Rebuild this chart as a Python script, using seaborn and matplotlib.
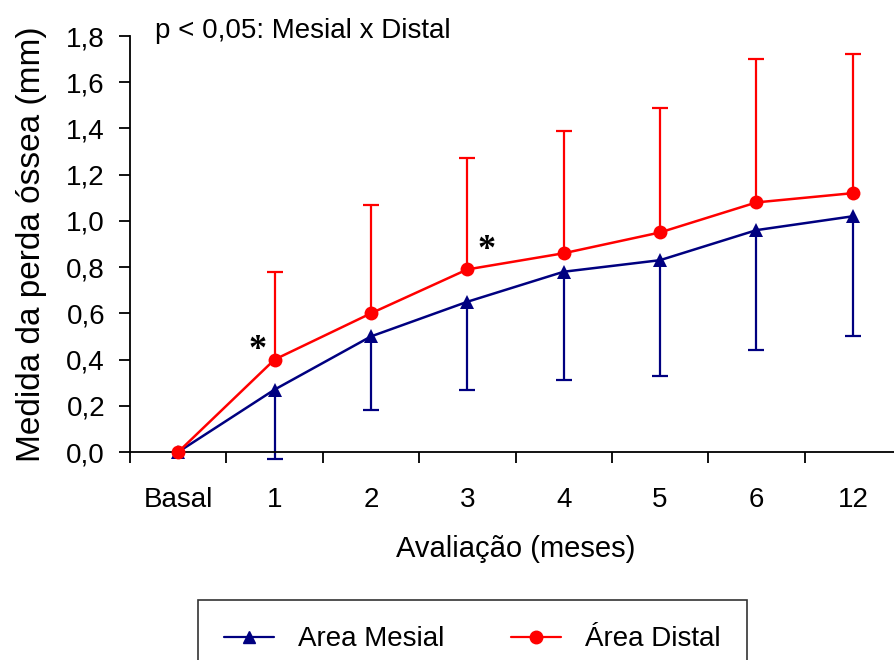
import numpy as np
import pandas as pd
import matplotlib
matplotlib.use("Agg")
import matplotlib.pyplot as plt
import seaborn as sns
from matplotlib.lines import Line2D

# ==============================================================================
# DATA
# ==============================================================================
meses = ["Basal", "1", "2", "3", "4", "5", "6", "12"]
mesial = [0.0, 0.27, 0.50, 0.65, 0.78, 0.83, 0.96, 1.02]
mesial_dp = [0.0, 0.30, 0.32, 0.38, 0.47, 0.50, 0.52, 0.52]
distal = [0.0, 0.40, 0.60, 0.79, 0.86, 0.95, 1.08, 1.12]
distal_dp = [0.0, 0.38, 0.47, 0.48, 0.53, 0.54, 0.62, 0.60]
asteriscos = [(0.82, 0.44), (3.2, 0.87)]

df = pd.DataFrame({
    "Avaliação": meses * 2,
    "Perda": mesial + distal,
    "Grupo": ["Area Mesial"] * len(meses) + ["Área Distal"] * len(meses),
})

AZUL = "#000080"
VERMELHO = "#FF0000"

# ==============================================================================
# PLOT
# ==============================================================================
sns.set_style("white")
plt.rcParams["font.family"] = ["Liberation Sans", "DejaVu Sans"]
plt.rcParams["text.color"] = "black"
plt.rcParams["axes.labelcolor"] = "black"
plt.rcParams["xtick.color"] = "black"
plt.rcParams["ytick.color"] = "black"

fig = plt.figure(figsize=(8.95, 6.6), dpi=100)
ax = fig.add_axes([130 / 895, 208 / 660, 771 / 895, 416 / 660])

x = np.arange(len(meses))
zeros = [0] * (len(meses) - 1)

# one-sided error bars (no bar at Basal): mesial downward, distal upward
eb_m = ax.errorbar(x[1:], mesial[1:], yerr=[mesial_dp[1:], zeros], fmt="none",
                   ecolor=AZUL, elinewidth=1.6, capsize=6, capthick=1.6, clip_on=False, zorder=2)
eb_d = ax.errorbar(x[1:], distal[1:], yerr=[zeros, distal_dp[1:]], fmt="none",
                   ecolor=VERMELHO, elinewidth=1.6, capsize=6, capthick=1.6, clip_on=False, zorder=2)
eb_m[1][1].set_visible(False)
eb_d[1][0].set_visible(False)
for c in list(eb_m[1]) + list(eb_d[1]):
    c.set_clip_on(False)

sns.lineplot(data=df, x="Avaliação", y="Perda", hue="Grupo", style="Grupo",
             palette=[AZUL, VERMELHO], markers=["^", "o"], dashes=False,
             markersize=10, markeredgewidth=0, linewidth=1.8, legend=False,
             ax=ax, zorder=3)
for ln in ax.lines:
    ln.set_clip_on(False)

for xa, ya in asteriscos:
    ax.text(xa, ya, "*", fontsize=26, ha="center", va="center", color="black",
            fontweight="bold", family=["Liberation Serif", "DejaVu Serif"])

ax.set_xlim(-0.5, len(meses) - 0.5)
ax.set_ylim(0, 1.8)
yt = np.arange(0, 1.81, 0.2)
ax.set_yticks(yt)
ax.set_yticklabels([f"{v:.1f}".replace(".", ",") for v in yt], fontsize=20)

# category boundary ticks, labels in the centres
ax.set_xticks(np.arange(-0.5, len(meses), 1.0))
ax.set_xticklabels([])
ax.set_xticks(x, minor=True)
ax.set_xticklabels(meses, minor=True, fontsize=20)
ax.tick_params(axis="x", which="major", direction="out", length=8, width=1.3, color="black", bottom=True)
ax.tick_params(axis="x", which="minor", length=0, pad=25)
ax.tick_params(axis="y", direction="out", length=8, width=1.3, color="black", left=True, pad=10)

for side in ["top", "right"]:
    ax.spines[side].set_visible(False)
for side in ["left", "bottom"]:
    ax.spines[side].set_color("black")
    ax.spines[side].set_linewidth(1.3)

ax.set_xlabel("Avaliação (meses)", fontsize=21, labelpad=16)
ax.set_ylabel("Medida da perda óssea (mm)", fontsize=24, labelpad=14)

fig.text(155 / 895, 1 - 31 / 660, "p < 0,05: Mesial x Distal", fontsize=20, va="center", ha="left")

handles = [
    Line2D([], [], color=AZUL, marker="^", markersize=9, linewidth=1.6),
    Line2D([], [], color=VERMELHO, marker="o", markersize=9, linewidth=1.6),
]
leg = fig.legend(handles, ["Area Mesial", "Área Distal"], loc="upper left",
                 bbox_to_anchor=(198 / 895, 1 - 600 / 660), bbox_transform=fig.transFigure,
                 ncol=2, fontsize=20, frameon=True, fancybox=False, borderaxespad=0,
                 handlelength=1.8, handletextpad=0.85, columnspacing=2.4, borderpad=0.95)
leg.get_frame().set_edgecolor("black")
leg.get_frame().set_linewidth(1.2)

plt.savefig("out.png", dpi=100)
